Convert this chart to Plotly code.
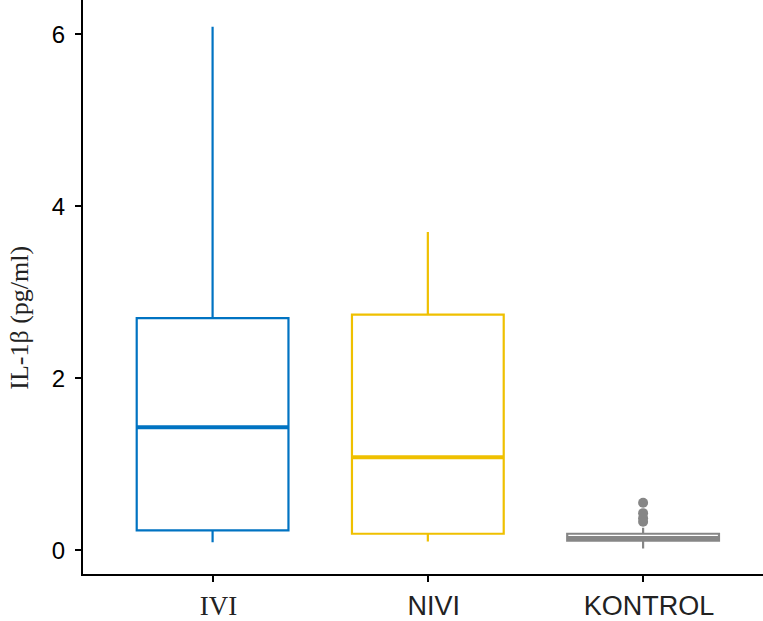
import plotly.graph_objects as go

categories = ["IVI", "NIVI", "KONTROL"]
tick_labels = ['<span style="font-family:\'Liberation Serif\', serif">IVI</span>', "NIVI", "KONTROL"]
lower_whisker = [0.09, 0.10, 0.02]
q1 = [0.23, 0.19, 0.11]
median = [1.43, 1.08, 0.14]
q3 = [2.70, 2.74, 0.19]
upper_whisker = [6.09, 3.70, 0.26]
outliers_kontrol = [0.33, 0.37, 0.43, 0.55]
colors = ["#0073C2", "#EFC000", "#868686"]
y_ticks = [0, 2, 4, 6]

box_w = 0.705
fig = go.Figure()
for i, cat in enumerate(categories):
    fig.add_trace(go.Box(
        x=[i], q1=[q1[i]], median=[median[i]], q3=[q3[i]],
        lowerfence=[lower_whisker[i]], upperfence=[upper_whisker[i]],
        width=box_w, whiskerwidth=0, fillcolor="rgba(255,255,255,0)",
        line=dict(color=colors[i], width=2.2), name=cat, showlegend=False,
        hoverinfo="skip",
    ))
    fig.add_trace(go.Scatter(
        x=[i - box_w / 2, i + box_w / 2], y=[median[i], median[i]],
        mode="lines", line=dict(color=colors[i], width=4),
        showlegend=False, hoverinfo="skip",
    ))

fig.add_trace(go.Scatter(
    x=[2] * len(outliers_kontrol), y=outliers_kontrol, mode="markers",
    marker=dict(color=colors[2], size=10), showlegend=False,
))

fig.update_layout(
    width=763, height=621,
    margin=dict(l=83, r=0, t=0, b=45),
    plot_bgcolor="white", paper_bgcolor="white",
    font=dict(family="Liberation Sans, Arial, sans-serif", color="black"),
    xaxis=dict(
        range=[-0.602, 2.557], tickvals=[0, 1, 2], ticktext=tick_labels,
        showline=True, linecolor="black", linewidth=2, showgrid=False, zeroline=False,
        ticks="outside", ticklen=6, tickwidth=2, tickcolor="black",
        tickfont=dict(size=27, color="#222"), ticklabelstandoff=1, ticklabelshift=6,
    ),
    yaxis=dict(
        range=[-0.278, 6.40], tickvals=y_ticks,
        showline=True, linecolor="black", linewidth=2, showgrid=False, zeroline=False,
        ticks="outside", ticklen=6, tickwidth=2, tickcolor="black",
        tickfont=dict(size=24, color="black"), ticklabelstandoff=5,
    ),
    annotations=[dict(
        text="IL-1β (pg/ml)", textangle=-90, xref="paper", yref="paper",
        x=-0.093, y=0.446, xanchor="center", yanchor="middle", showarrow=False,
        font=dict(family="Liberation Serif, Times New Roman, serif", size=26, color="#222"),
    )],
)

fig.write_html("out.html")
